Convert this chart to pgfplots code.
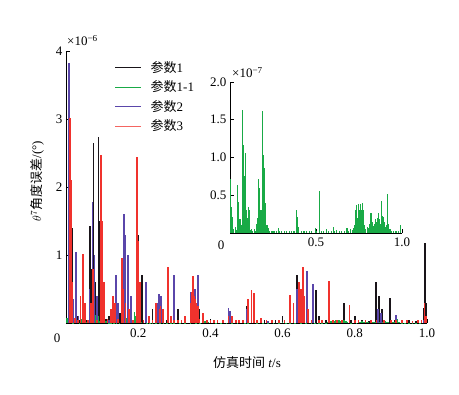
\documentclass[border=0pt]{standalone}
\usepackage{pgfplots}
\pgfplotsset{compat=1.18}
\usepackage{pgfplotstable}
\usepackage{fontspec}
\setmainfont{Liberation Serif}
\newfontfamily\cjk{Noto Sans CJK SC}
\definecolor{cblack}{RGB}{25,20,25}
\definecolor{cgreen}{RGB}{25,170,70}
\definecolor{cpurple}{RGB}{90,70,170}
\definecolor{cred}{RGB}{240,50,45}

\pgfplotstableread{
x y
0.005 0.05
0.013 0.6
0.016 1.40
0.020 0.3
0.030 0.1
0.038 0.04
0.045 0.05
0.055 0.04
0.066 1.43
0.071 0.8
0.076 2.65
0.080 0.6
0.090 2.74
0.093 1.5
0.098 0.5
0.110 0.06
0.120 0.1
0.135 0.04
0.150 0.15
0.170 0.04
0.185 0.05
0.199 1.3
0.210 0.7
0.220 0.15
0.240 0.2
0.255 0.3
0.262 0.35
0.280 0.05
0.300 0.7
0.310 0.2
0.330 0.04
0.362 0.3
0.370 0.2
0.390 0.04
0.400 0.05
0.420 0.04
0.455 0.15
0.480 0.04
0.500 0.25
0.530 0.04
0.550 0.05
0.580 0.04
0.600 0.1
0.620 0.05
0.639 0.71
0.645 0.4
0.693 0.49
0.700 0.1
0.720 0.05
0.750 0.03
0.770 0.29
0.790 0.04
0.800 0.10
0.820 0.05
0.840 0.03
0.859 0.60
0.868 0.40
0.875 0.2
0.898 0.37
0.910 0.04
0.930 0.03
0.950 0.05
0.970 0.03
0.990 0.22
0.995 1.17
0.998 0.3
}\tblack

\pgfplotstableread{
x y
0.008 3.82
0.011 1.72
0.013 0.8
0.020 0.35
0.028 1.04
0.035 0.1
0.065 0.5
0.073 1.78
0.079 1.0
0.085 0.4
0.120 0.05
0.138 0.70
0.145 0.3
0.155 0.6
0.160 1.61
0.164 1.30
0.172 1.0
0.180 0.4
0.195 0.4
0.222 0.6
0.252 0.3
0.258 0.42
0.264 0.4
0.300 0.70
0.320 0.04
0.345 0.45
0.350 0.4
0.358 0.5
0.366 0.70
0.400 0.03
0.450 0.22
0.455 0.18
0.500 0.2
0.505 0.15
0.560 0.03
0.620 0.25
0.640 0.5
0.668 0.77
0.685 0.57
0.740 0.03
0.800 0.04
0.865 0.2
0.872 0.15
0.915 0.12
0.960 0.03
0.990 0.05
}\tpurple

\pgfplotstableread{
x y
0.011 3.01
0.013 2.1
0.016 0.6
0.025 0.08
0.033 0.05
0.040 0.4
0.048 1.01
0.052 0.3
0.060 0.05
0.070 0.3
0.075 0.8
0.085 0.05
0.097 2.47
0.100 1.5
0.105 0.6
0.115 0.06
0.125 0.2
0.130 0.4
0.135 0.3
0.145 0.06
0.155 0.95
0.158 0.5
0.165 0.3
0.175 0.2
0.185 0.05
0.196 2.44
0.198 2.07
0.201 1.2
0.205 0.6
0.215 0.05
0.230 0.1
0.240 0.05
0.250 0.3
0.260 0.2
0.262 0.25
0.268 0.2
0.270 0.1
0.282 0.82
0.290 0.1
0.300 0.05
0.310 0.05
0.320 0.05
0.330 0.1
0.345 0.3
0.348 0.45
0.352 0.69
0.356 0.4
0.358 0.35
0.360 0.3
0.365 0.25
0.370 0.06
0.380 0.15
0.390 0.05
0.400 0.05
0.410 0.04
0.420 0.05
0.435 0.04
0.450 0.1
0.460 0.1
0.470 0.04
0.480 0.05
0.490 0.04
0.505 0.35
0.514 0.49
0.520 0.44
0.530 0.05
0.540 0.08
0.555 0.04
0.570 0.05
0.590 0.04
0.605 0.05
0.620 0.41
0.630 0.3
0.645 0.6
0.650 0.5
0.657 0.82
0.660 0.4
0.670 0.2
0.680 0.05
0.700 0.04
0.710 0.05
0.728 0.62
0.740 0.04
0.750 0.05
0.765 0.04
0.785 0.27
0.800 0.04
0.810 0.04
0.830 0.05
0.845 0.04
0.860 0.05
0.880 0.04
0.900 0.04
0.915 0.04
0.930 0.05
0.945 0.04
0.960 0.03
0.975 0.04
0.985 0.05
0.993 0.3
0.998 0.1
}\tred

\pgfplotstableread{
x y
0.003 0.72
0.008 0.35
0.014 0.21
0.020 0.05
0.030 0.08
0.037 0.04
0.043 0.63
0.049 0.41
0.058 0.18
0.065 0.1
0.072 1.63
0.076 0.8
0.080 1.17
0.085 0.75
0.089 1.06
0.095 0.3
0.104 0.2
0.109 0.35
0.113 0.3
0.120 0.04
0.125 0.05
0.133 0.03
0.140 0.05
0.148 0.03
0.155 0.12
0.160 0.2
0.167 0.72
0.172 0.6
0.180 0.3
0.190 1.61
0.194 1.03
0.200 0.86
0.204 0.4
0.208 0.15
0.215 0.1
0.225 0.06
0.232 0.03
0.240 0.03
0.250 0.02
0.260 0.02
0.270 0.03
0.280 0.06
0.290 0.02
0.300 0.03
0.315 0.02
0.330 0.02
0.345 0.03
0.360 0.03
0.372 0.02
0.385 0.25
0.388 0.31
0.393 0.21
0.400 0.08
0.415 0.02
0.430 0.03
0.445 0.02
0.460 0.02
0.475 0.03
0.495 0.06
0.505 0.03
0.520 0.55
0.530 0.03
0.545 0.02
0.560 0.05
0.575 0.03
0.590 0.02
0.600 0.08
0.610 0.03
0.620 0.04
0.635 0.03
0.650 0.03
0.665 0.03
0.680 0.06
0.690 0.03
0.700 0.05
0.710 0.04
0.720 0.06
0.725 0.1
0.730 0.3
0.733 0.2
0.735 0.35
0.738 0.37
0.742 0.2
0.745 0.3
0.748 0.39
0.752 0.3
0.755 0.2
0.757 0.38
0.762 0.25
0.766 0.3
0.771 0.40
0.775 0.3
0.780 0.1
0.790 0.05
0.800 0.08
0.805 0.06
0.810 0.12
0.815 0.09
0.820 0.27
0.825 0.1
0.830 0.15
0.834 0.09
0.838 0.12
0.845 0.19
0.850 0.14
0.854 0.1
0.857 0.2
0.861 0.12
0.864 0.26
0.870 0.18
0.875 0.12
0.880 0.43
0.885 0.22
0.889 0.12
0.893 0.21
0.900 0.15
0.905 0.08
0.910 0.1
0.917 0.52
0.922 0.12
0.930 0.05
0.940 0.03
0.950 0.03
0.960 0.02
0.970 0.03
0.980 0.02
0.990 0.10
}\tgreen

\begin{document}
\begin{tikzpicture}[x=1pt,y=1pt,font=\fontsize{13}{15}\selectfont]
\path[use as bounding box] (0,0) rectangle (459,395);
\begin{axis}[
  at={(66pt,72pt)}, anchor=south west, scale only axis,
  width=361pt, height=272pt,
  xmin=0, xmax=1, ymin=0, ymax=4,
  axis lines*=left, axis line style={line width=0.8pt},
  tick align=inside, major tick length=4pt,
  tick style={black, line width=0.6pt},
  xtick={0.2,0.4,0.6,0.8,1.0}, xticklabels={0.2,0.4,0.6,0.8,1.0},
  ytick={1,2,3,4}, yticklabels={1,2,3,4},
  tick label style={font=\fontsize{13}{15}\selectfont},
  xticklabel style={yshift=-2pt},
  clip=false,
  legend style={at={(rel axis cs:0.135,0.97)}, anchor=north west, draw=none, fill=none,
    font=\fontsize{13}{15}\selectfont, row sep=3pt, inner sep=0pt,
    /tikz/every odd column/.style={column sep=7pt}},
  legend cell align=left,
  legend image code/.code={\draw[#1] (0pt,0pt) -- (26pt,0pt);},
]
\addplot[ycomb, cblack, line width=1.7pt, forget plot] table[x=x,y=y] {\tblack};
\addplot[ycomb, cgreen, line width=1.7pt, forget plot] table[x=x,y expr=\thisrow{y}/10] {\tgreen};
\addplot[ycomb, cpurple, line width=1.7pt, forget plot] table[x=x,y=y] {\tpurple};
\addplot[ycomb, cred, line width=1.7pt, forget plot] table[x=x,y=y] {\tred};
\addlegendimage{color=cblack, line width=0.8pt}
\addlegendentry{{\cjk 参数}1}
\addlegendimage{color=cgreen, line width=0.8pt}
\addlegendentry{{\cjk 参数}1-1}
\addlegendimage{color=cpurple, line width=0.8pt}
\addlegendentry{{\cjk 参数}2}
\addlegendimage{color=cred!75!white, line width=0.8pt}
\addlegendentry{{\cjk 参数}3}
\end{axis}

\begin{axis}[
  at={(230pt,162pt)}, anchor=south west, scale only axis,
  width=172pt, height=151pt,
  xmin=0, xmax=1, ymin=0, ymax=2,
  axis lines*=left, axis line style={line width=0.8pt},
  tick align=inside, major tick length=4pt,
  tick style={black, line width=0.6pt},
  xtick={0.5,1.0}, xticklabels={0.5,1.0},
  ytick={0.5,1,1.5,2}, yticklabels={0.5,1.0,1.5,2.0},
  tick label style={font=\fontsize{13}{15}\selectfont},
  xticklabel style={yshift=-1pt},
  clip=false,
]
\addplot[ycomb, cgreen, line width=1.1pt] table[x=x,y=y] {\tgreen};
\end{axis}

% shared origin labels and scale factors
\node[anchor=center] at (57,57) {0};
\node[anchor=center] at (221,150) {0};
\node[anchor=base west, inner sep=0pt] at (67,349) {×10\textsuperscript{−6}};
\node[anchor=base west, inner sep=0pt] at (232,317) {×10\textsuperscript{−7}};
% axis titles
\node[rotate=90, anchor=center] at (37,214) {$\theta^{7}${\cjk 角度误差}/(°)};
\node[anchor=center] at (247,32) {{\cjk 仿真时间} \textit{t}/s};
\end{tikzpicture}
\end{document}
